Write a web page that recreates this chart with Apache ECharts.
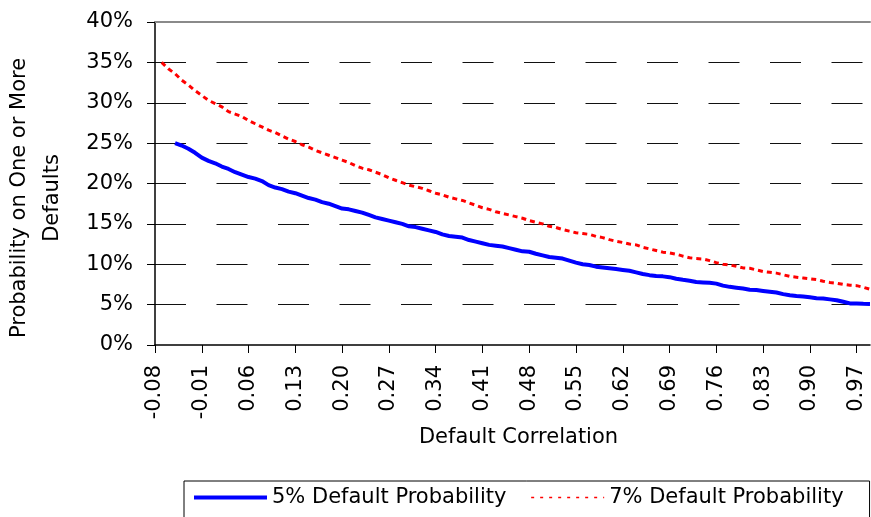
<!DOCTYPE html>
<html>
<head>
<meta charset="utf-8">
<script src="https://cdn.jsdelivr.net/npm/echarts@6/dist/echarts.min.js"></script>
<style>
  html, body { margin: 0; padding: 0; background: #fff; }
  #chart { width: 871px; height: 517px; }
</style>
</head>
<body>
<div id="chart"></div>
<script>
// Default correlation values on the category axis
const categories = [
  '-0.08','-0.07','-0.06','-0.05','-0.04','-0.03','-0.02','-0.01','0.00','0.01',
  '0.02','0.03','0.04','0.05','0.06','0.07','0.08','0.09','0.10','0.11',
  '0.12','0.13','0.14','0.15','0.16','0.17','0.18','0.19','0.20','0.21',
  '0.22','0.23','0.24','0.25','0.26','0.27','0.28','0.29','0.30','0.31',
  '0.32','0.33','0.34','0.35','0.36','0.37','0.38','0.39','0.40','0.41',
  '0.42','0.43','0.44','0.45','0.46','0.47','0.48','0.49','0.50','0.51',
  '0.52','0.53','0.54','0.55','0.56','0.57','0.58','0.59','0.60','0.61',
  '0.62','0.63','0.64','0.65','0.66','0.67','0.68','0.69','0.70','0.71',
  '0.72','0.73','0.74','0.75','0.76','0.77','0.78','0.79','0.80','0.81',
  '0.82','0.83','0.84','0.85','0.86','0.87','0.88','0.89','0.90','0.91',
  '0.92','0.93','0.94','0.95','0.96','0.97','0.98','0.99'
];

// Probability (%) of one or more defaults, 5% default probability
const prob5 = [
  null, null, null, 25.0, 24.7, 24.3, 23.8, 23.2, 22.8, 22.5,
  22.1, 21.8, 21.4, 21.1, 20.8, 20.6, 20.3, 19.8, 19.5, 19.3,
  19.0, 18.8, 18.5, 18.2, 18.0, 17.7, 17.5, 17.2, 16.9, 16.8,
  16.6, 16.4, 16.1, 15.8, 15.6, 15.4, 15.2, 15.0, 14.7, 14.6,
  14.4, 14.2, 14.0, 13.7, 13.5, 13.4, 13.3, 13.0, 12.8, 12.6,
  12.4, 12.3, 12.2, 12.0, 11.8, 11.6, 11.55, 11.3, 11.1, 10.9,
  10.8, 10.7, 10.45, 10.2, 10.0, 9.9, 9.7, 9.6, 9.5, 9.4,
  9.3, 9.2, 9.0, 8.8, 8.65, 8.55, 8.5, 8.4, 8.2, 8.07,
  7.96, 7.8, 7.75, 7.7, 7.6, 7.35, 7.2, 7.1, 7.0, 6.85,
  6.8, 6.7, 6.6, 6.5, 6.3, 6.15, 6.07, 6.0, 5.9, 5.8,
  5.75, 5.65, 5.55, 5.35, 5.15, 5.15, 5.1, 5.08
];

// Probability (%) of one or more defaults, 7% default probability
const prob7 = [
  null, 35.0, 34.2, 33.6, 32.8, 32.2, 31.5, 30.9, 30.3, 29.9,
  29.5, 28.9, 28.6, 28.3, 27.8, 27.4, 27.0, 26.6, 26.3, 25.9,
  25.5, 25.2, 24.8, 24.5, 24.1, 23.8, 23.5, 23.2, 22.9, 22.6,
  22.2, 21.9, 21.7, 21.4, 21.1, 20.7, 20.4, 20.1, 19.8, 19.6,
  19.4, 19.1, 18.8, 18.6, 18.3, 18.1, 17.9, 17.6, 17.3, 17.0,
  16.8, 16.5, 16.3, 16.1, 15.9, 15.7, 15.4, 15.2, 15.0, 14.7,
  14.55, 14.3, 14.1, 13.9, 13.8, 13.7, 13.45, 13.3, 13.05, 12.85,
  12.7, 12.5, 12.4, 12.1, 11.9, 11.7, 11.5, 11.4, 11.25, 11.0,
  10.8, 10.7, 10.65, 10.45, 10.2, 10.0, 9.9, 9.75, 9.55, 9.5,
  9.3, 9.1, 9.0, 8.9, 8.7, 8.5, 8.4, 8.3, 8.2, 8.1,
  7.9, 7.75, 7.65, 7.5, 7.4, 7.35, 7.15, 6.9
];

const seriesNames = ['5% Default Probability', '7% Default Probability'];
const yTitle = 'Probability on One or More\nDefaults';
const xTitle = 'Default Correlation';

const FONT = '"DejaVu Sans", "Liberation Sans", Arial, sans-serif';

const chart = echarts.init(document.getElementById('chart'), null, { renderer: 'canvas' });

chart.setOption({
  animation: false,
  backgroundColor: '#ffffff',
  textStyle: { fontFamily: FONT, color: '#000' },
  grid: { left: 155, right: 1, top: 22, bottom: 172, containLabel: false },
  xAxis: [
    {
      type: 'category',
      data: categories,
      boundaryGap: false,
      name: xTitle,
      nameLocation: 'middle',
      nameGap: 82,
      nameTextStyle: { fontFamily: FONT, fontSize: 21, color: '#000', padding: [0, 0, 0, 12] },
      axisLine: { show: true, lineStyle: { color: '#000', width: 1.5 } },
      axisTick: { show: true, interval: 6, length: 8, lineStyle: { color: '#000', width: 1 } },
      axisLabel: {
        interval: 6, rotate: 90, margin: 20,
        fontFamily: FONT, fontSize: 21, color: '#000'
      },
      splitLine: { show: false }
    },
    {
      // plot-area top edge
      type: 'category',
      data: categories,
      boundaryGap: false,
      position: 'top',
      axisLine: { show: true, lineStyle: { color: '#8a8a8a', width: 2 } },
      axisTick: { show: false },
      axisLabel: { show: false },
      splitLine: { show: false }
    }
  ],
  yAxis: {
    type: 'value',
    min: 0,
    max: 40,
    interval: 5,
    axisLine: { show: true, lineStyle: { color: '#000', width: 1.5 } },
    axisTick: { show: true, length: 8, lineStyle: { color: '#000', width: 1 } },
    axisLabel: {
      formatter: '{value}%', margin: 22,
      fontFamily: FONT, fontSize: 21, color: '#000'
    },
    splitLine: {
      show: true,
      showMinLine: false,
      showMaxLine: false,
      lineStyle: { color: '#111', width: 1, type: [31, 30.5], dashOffset: 0 }
    }
  },
  legend: {
    left: 184,
    top: 481,
    orient: 'horizontal',
    width: 684,
    padding: [6, 26, 30, 8],
    itemGap: 24,
    itemWidth: 73,
    itemHeight: 14,
    borderColor: '#000',
    borderWidth: 1,
    textStyle: { fontFamily: FONT, fontSize: 21, color: '#000' },
    data: [
      { name: seriesNames[0], lineStyle: { color: '#0000ff', width: 4 }, itemStyle: { opacity: 0 } },
      { name: seriesNames[1], lineStyle: { color: '#ff0000', width: 1.5, type: [3, 6] }, itemStyle: { opacity: 0 } }
    ]
  },
  graphic: [
    {
      type: 'text',
      x: 36,
      y: 198,
      rotation: Math.PI / 2,
      style: {
        text: yTitle,
        fontFamily: FONT,
        fontSize: 21,
        lineHeight: 33,
        fill: '#000',
        align: 'center',
        verticalAlign: 'middle'
      }
    }
  ],
  series: [
    {
      name: seriesNames[0],
      type: 'line',
      data: prob5,
      symbol: 'none',
      smooth: false,
      connectNulls: false,
      lineStyle: { color: '#0000ff', width: 4 },
      itemStyle: { color: '#0000ff' },
      z: 3
    },
    {
      name: seriesNames[1],
      type: 'line',
      data: prob7,
      symbol: 'none',
      smooth: false,
      connectNulls: false,
      lineStyle: { color: '#ff0000', width: 3, type: [5, 4] },
      itemStyle: { color: '#ff0000' },
      z: 2
    }
  ]
});
</script>
</body>
</html>
